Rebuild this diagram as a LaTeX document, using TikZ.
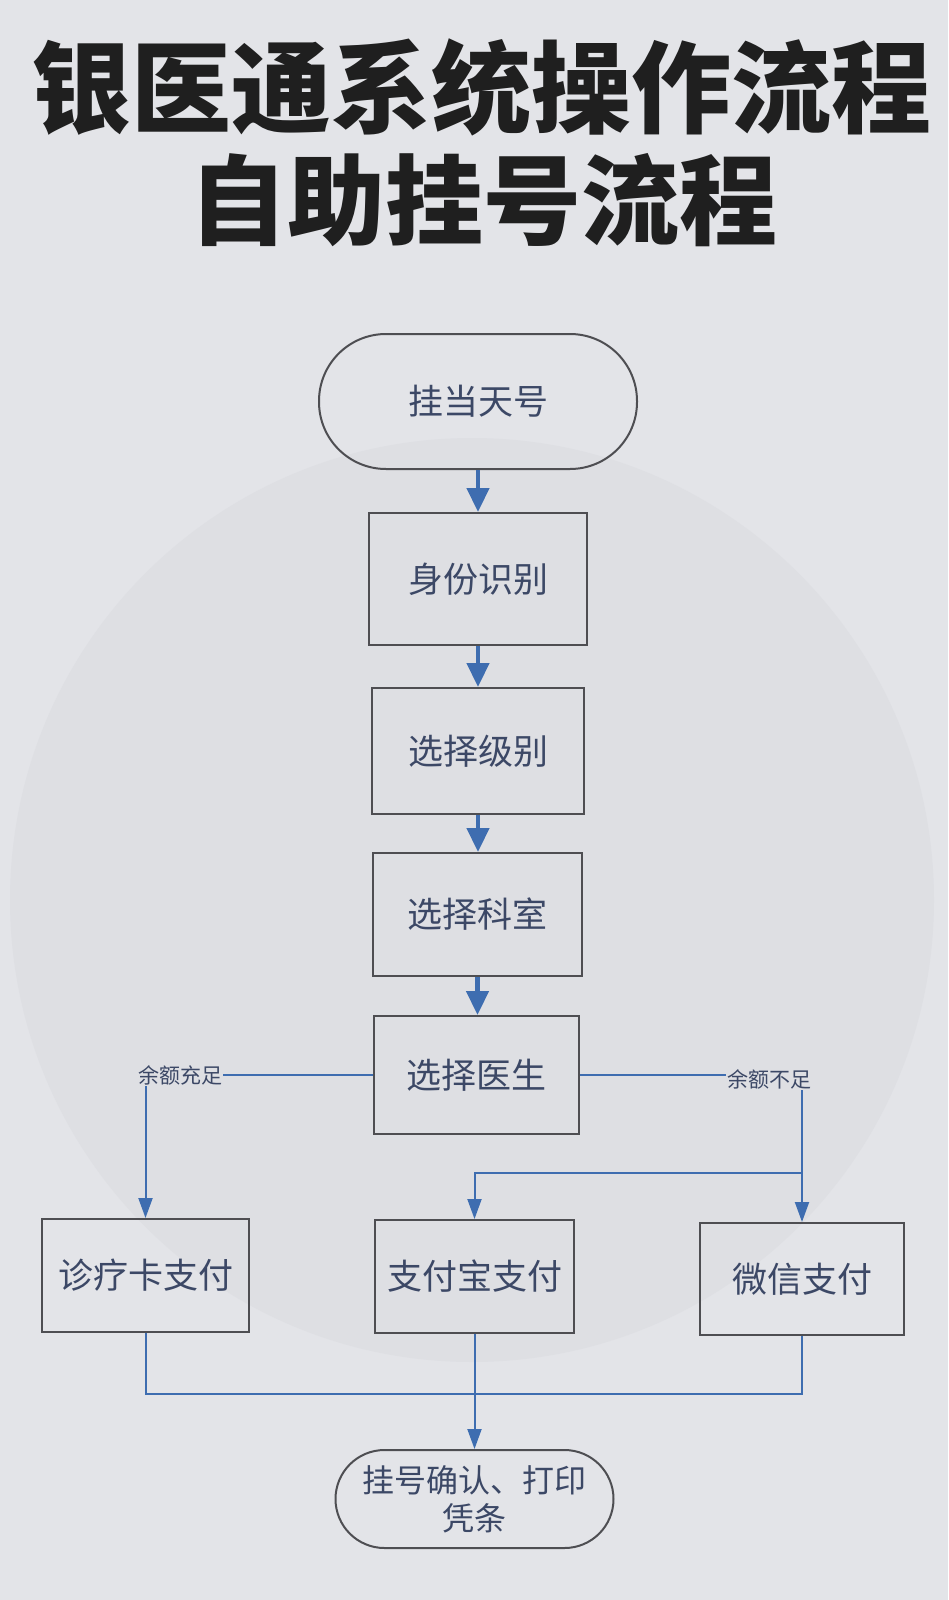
\documentclass[tikz,border=0pt]{standalone}
\usepackage{fontspec}
\newfontfamily\cjk{Noto Sans CJK SC}
\usetikzlibrary{arrows.meta}
\definecolor{bgc}{HTML}{E3E4E8}
\definecolor{circ}{HTML}{D8D9DE}
\definecolor{txt}{HTML}{3C4866}
\definecolor{edge}{HTML}{4E4E52}
\definecolor{arrc}{HTML}{3E6DB0}
\tikzset{
  box/.style={draw=edge, line width=2pt, fill=none, text=txt, font=\cjk\fontsize{35}{40}\selectfont, inner sep=0pt},
  term/.style={box, rounded corners=#1},
  lbl/.style={text=txt, font=\cjk\fontsize{21}{24}\selectfont, inner sep=1pt},
  mainarr/.style={draw=arrc, line width=4.5pt, -{Triangle[width=22pt,length=24pt]}},
  subarr/.style={draw=arrc, line width=2pt, -{Triangle[width=14pt,length=20pt]}},
  subline/.style={draw=arrc, line width=2pt},
}
\begin{document}
\begin{tikzpicture}[x=1pt,y=-1pt]
\fill[bgc] (0,0) rectangle (948,1600);
\useasboundingbox (0,0) rectangle (948,1600);
\fill[circ, opacity=0.45] (472,900) circle (462);
\node[text=black!88, font=\cjk\bfseries\fontsize{100}{104}\selectfont] (title1) at (481,87) {银医通系统操作流程};
\node[text=black!88, font=\cjk\bfseries\fontsize{98}{102}\selectfont] (title2) at (483,200) {自助挂号流程};

\node[term=67pt, minimum width=318pt, minimum height=135pt] (t1) at (478,401.5) {挂当天号};
\node[box, minimum width=218pt, minimum height=132pt] (b1) at (478,579) {身份识别};
\node[box, minimum width=212pt, minimum height=126pt] (b2) at (478,751) {选择级别};
\node[box, minimum width=209pt, minimum height=123pt] (b3) at (477.5,914.5) {选择科室};
\node[box, minimum width=205pt, minimum height=118pt] (b4) at (476.5,1075) {选择医生};
\node[box, minimum width=207pt, minimum height=113pt] (p1) at (145.5,1275.5) {诊疗卡支付};
\node[box, minimum width=199pt, minimum height=113pt] (p2) at (474.5,1276.5) {支付宝支付};
\node[box, minimum width=204pt, minimum height=112pt] (p3) at (802,1279) {微信支付};
\node[term=49pt, minimum width=278pt, minimum height=98pt, align=center, font=\cjk\fontsize{32}{38}\selectfont] (t2) at (474.5,1499) {挂号确认、打印\\凭条};

\node[lbl] (l1) at (180,1075) {余额充足};
\node[lbl] (l2) at (769,1079) {余额不足};

\draw[mainarr] (t1.south) -- (t1.south |- b1.north);
\draw[mainarr] (b1.south) -- (b1.south |- b2.north);
\draw[mainarr] (b2.south) -- (b2.south |- b3.north);
\draw[mainarr] (b3.south) -- (b3.south |- b4.north);

\draw[subline] (b4.west) -- (b4.west -| l1.east);
\draw[subarr] (p1.north |- l1.south) -- (p1.north);
\draw[subline] (b4.east) -- (b4.east -| l2.west);
\draw[subarr] (p3.north |- l2.south) -- (p3.north);
\coordinate (br) at (p3.north |- 0,1173);
\draw[subarr] (br) -| (p2.north);

\coordinate (jn) at (p2.south |- 0,1394);
\draw[subline] (p1.south) |- (jn) -| (p3.south);
\draw[subarr] (p2.south) -- (t2.north);
\end{tikzpicture}
\end{document}
